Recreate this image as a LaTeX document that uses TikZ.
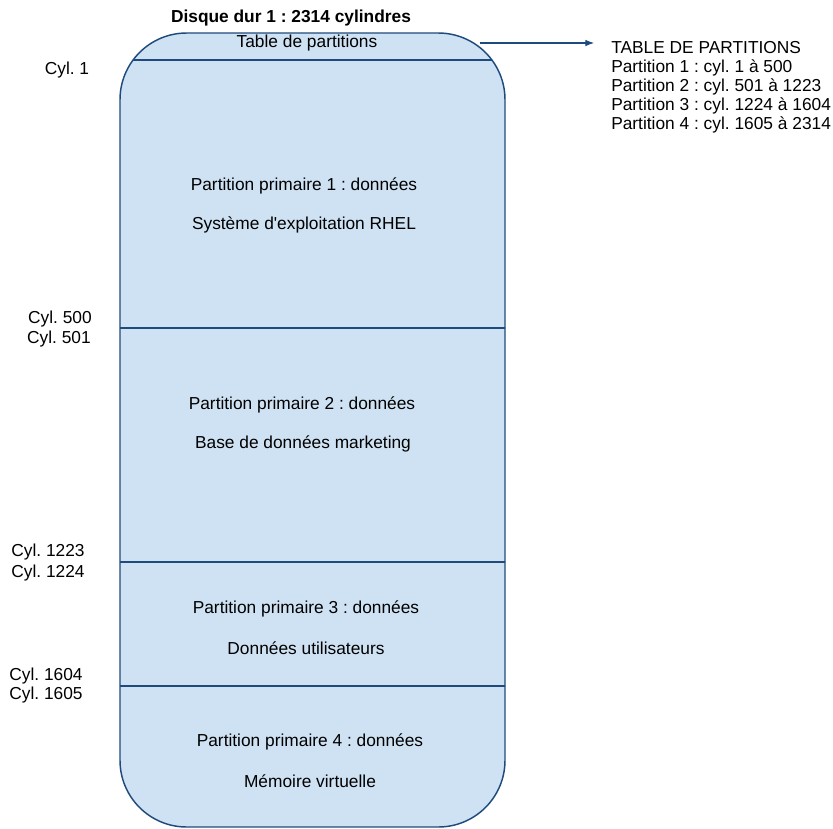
\documentclass[tikz,border=0pt]{standalone}
\usepackage{fontspec}
\setmainfont{Liberation Sans}
\usetikzlibrary{arrows.meta}
\definecolor{remplissage}{HTML}{CFE2F3}
\definecolor{trait}{HTML}{1F4A7C}
\tikzset{
  bord/.style={draw=trait, line width=1.1pt},
  cyl/.style={inner sep=0pt}
}
\frenchspacing
\begin{document}
\begin{tikzpicture}[x=0.75pt, y=-0.75pt, >={Latex[length=6.5pt,width=5pt]}, font=\fontsize{13}{14.25}\selectfont]
    \useasboundingbox (0,0) rectangle (833,829);

    % Disque
    \begin{scope}
        \clip[rounded corners=50pt] (120,33) rectangle (505,827);
        \fill[remplissage] (120,33) rectangle (505,827);
        \foreach \y in {60,328,562,686}
            \draw[bord] (100,\y) -- (520,\y);
    \end{scope}
    \draw[bord, rounded corners=50pt] (120,33) rectangle (505,827);

    % Nodes
    \node[font=\fontsize{13}{14}\selectfont\bfseries] (titre) at (291,18) {Disque dur 1 : 2314 cylindres};
    \node (table) at (307,43) {Table de partitions};
    \node (p1) at (304,186) {Partition primaire 1 : données};
    \node (p1b) at (304,225) {Système d\textquotesingle exploitation RHEL};
    \node (p2) at (302,405) {Partition primaire 2 : données};
    \node (p2b) at (303,444) {Base de données marketing};
    \node (p3) at (306,609) {Partition primaire 3 : données};
    \node (p3b) at (306,648) {Données utilisateurs};
    \node (p4) at (310,742) {Partition primaire 4 : données};
    \node (p4b) at (310,781) {Mémoire virtuelle};
    \node[anchor=north west, align=left, inner sep=0pt] (liste) at (611,41)
        {TABLE DE PARTITIONS\\Partition 1 : cyl. 1 à 500\\Partition 2 : cyl. 501 à 1223\\Partition 3 : cyl. 1224 à 1604\\Partition 4 : cyl. 1605 à 2314};

    % Cylindres
    \node[cyl] (c1) at (67,70) {Cyl. 1};
    \node[cyl] (c500) at (60,319) {Cyl. 500};
    \node[cyl] (c501) at (59,339) {Cyl. 501};
    \node[cyl] (c1223) at (48,552) {Cyl. 1223};
    \node[cyl] (c1224) at (48,573) {Cyl. 1224};
    \node[cyl] (c1604) at (46,676) {Cyl. 1604};
    \node[cyl] (c1605) at (46,695) {Cyl. 1605};

    % Arrows
    \coordinate (sortie) at (480,43);
    \draw[->, trait, line width=0.8pt] (sortie) -- ([xshift=-12.75pt]sortie -| liste.west);

\end{tikzpicture}
\end{document}
